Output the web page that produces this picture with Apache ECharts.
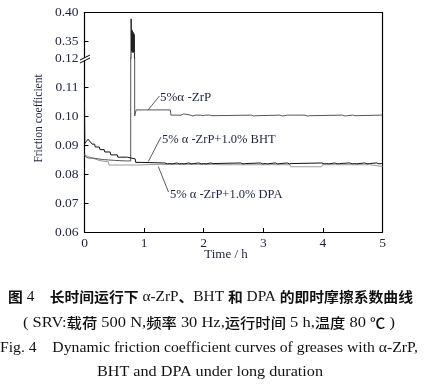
<!DOCTYPE html>
<html><head><meta charset="utf-8">
<script src="https://cdn.jsdelivr.net/npm/echarts@6/dist/echarts.min.js"></script>
<style>html,body{margin:0;padding:0;background:#fff}#c{width:445px;height:384px}</style>
</head><body><div id="c"></div>
<script>
// ---- data ----
const timeTicks = [0, 1, 2, 3, 4, 5];
const lowerTicks = [0.06, 0.07, 0.08, 0.09, 0.10, 0.11, 0.12];
const upperTicks = [0.35, 0.40];
const seriesNames = ['5%α -ZrP', '5% α -ZrP+1.0% BHT', '5% α -ZrP+1.0% DPA'];
const zrp = [
  [0,0.0866],[0.02,0.0866],[0.03,0.0858],[0.06,0.0858],[0.07,0.0855],[0.14,0.0855],[0.15,0.0850],[0.30,0.0850],
  [0.31,0.0847],[0.50,0.0847],[0.52,0.0845],[0.70,0.0845],[0.72,0.0848],[0.73,0.0845],[0.775,0.0845],
  [0.78,0.330],[0.782,0.389],[0.786,0.372],[0.79,0.334],[0.795,0.370],[0.80,0.331],[0.805,0.368],[0.81,0.332],
  [0.815,0.366],[0.82,0.331],[0.825,0.364],[0.83,0.332],[0.835,0.362],[0.838,0.331],
  [0.842,0.1000],[0.855,0.1000],[0.858,0.1006],[0.862,0.1000],[0.866,0.1021],[0.98,0.1021],[0.985,0.1026],[0.99,0.1021],
  [1.30,0.1021],[1.305,0.1025],[1.31,0.1021],[1.44,0.1021],[1.45,0.1003],
  [1.62,0.1003],[1.63,0.1008],[1.64,0.1000],[1.66,0.1007],[1.68,0.1001],[1.70,0.1006],[1.72,0.1003],
  [1.78,0.1003],[1.80,0.1007],[1.82,0.1000],[1.84,0.1006],[1.86,0.1003],
  [1.95,0.1003],[1.97,0.1007],[1.99,0.1001],[2.01,0.1006],[2.03,0.1003],
  [2.10,0.1003],[2.12,0.1007],[2.14,0.1001],[2.16,0.1003],
  [2.80,0.1003],[2.82,0.1008],[2.84,0.1000],[2.86,0.1006],[2.88,0.1001],[2.90,0.1003],
  [3.28,0.1003],[3.30,0.1007],[3.32,0.1000],[3.34,0.1006],[3.36,0.1001],[3.38,0.1007],[3.40,0.1003],
  [3.46,0.1003],[3.48,0.1007],[3.50,0.1003],
  [3.70,0.1003],[3.72,0.1007],[3.74,0.1000],[3.76,0.1006],[3.78,0.1001],[3.80,0.1003],
  [4.33,0.1003],[4.35,0.1007],[4.37,0.1000],[4.39,0.1006],[4.41,0.1001],[4.43,0.1003],
  [4.50,0.1003],[4.52,0.1006],[4.54,0.1001],[4.56,0.1003],
  [4.96,0.1003],[4.98,0.1006],[5.00,0.1003]
];
const bht = [
  [0,0.1045],[0.005,0.0905],[0.03,0.0912],[0.06,0.0920],[0.08,0.0918],[0.10,0.0910],[0.13,0.0903],[0.17,0.0903],
  [0.18,0.0893],[0.25,0.0893],[0.26,0.0884],[0.33,0.0884],[0.34,0.0876],[0.43,0.0876],[0.44,0.0866],[0.55,0.0866],
  [0.56,0.0858],[0.72,0.0858],[0.73,0.0852],[0.85,0.0852],[0.86,0.0840],[0.95,0.0840],[0.96,0.0838],
  [1.35,0.0838],[1.37,0.0842],[1.39,0.0835],[1.41,0.0841],[1.43,0.0836],[1.45,0.0840],[1.47,0.0835],[1.49,0.0838],
  [1.55,0.0838],[1.57,0.0841],[1.59,0.0835],[1.61,0.0840],[1.63,0.0836],[1.65,0.0841],[1.67,0.0835],[1.69,0.0838],
  [1.75,0.0838],[1.77,0.0842],[1.79,0.0835],[1.81,0.0840],[1.83,0.0836],[1.85,0.0838],
  [1.92,0.0838],[1.94,0.0841],[1.96,0.0835],[1.98,0.0840],[2.00,0.0836],[2.02,0.0841],[2.04,0.0835],[2.06,0.0838],
  [2.12,0.0838],[2.14,0.0841],[2.16,0.0836],[2.18,0.0838],
  [2.62,0.0838],[2.64,0.0841],[2.66,0.0835],[2.68,0.0840],[2.70,0.0836],[2.72,0.0838],
  [2.95,0.0838],[2.97,0.0841],[2.99,0.0835],[3.01,0.0840],[3.03,0.0836],[3.05,0.0841],[3.07,0.0835],[3.09,0.0838],
  [3.20,0.0838],[3.22,0.0841],[3.24,0.0835],[3.26,0.0838],
  [3.40,0.0838],[3.42,0.0841],[3.44,0.0835],[3.46,0.0840],[3.48,0.0836],[3.50,0.0838],
  [3.98,0.0838],[4.00,0.0841],[4.02,0.0835],[4.04,0.0840],[4.06,0.0836],[4.08,0.0841],[4.10,0.0835],[4.12,0.0838],
  [4.20,0.0838],[4.22,0.0841],[4.24,0.0835],[4.26,0.0840],[4.28,0.0836],[4.30,0.0838],
  [4.45,0.0838],[4.47,0.0841],[4.49,0.0835],[4.51,0.0840],[4.53,0.0836],[4.55,0.0841],[4.57,0.0835],[4.59,0.0838],
  [4.70,0.0838],[4.72,0.0841],[4.74,0.0835],[4.76,0.0840],[4.78,0.0836],[4.80,0.0838],
  [4.90,0.0838],[4.92,0.0841],[4.94,0.0835],[4.96,0.0840],[4.98,0.0836],[5.00,0.0838]
];
const dpa = [
  [0,0.0868],[0.04,0.0862],[0.05,0.0856],[0.09,0.0858],[0.10,0.0852],[0.17,0.0852],[0.18,0.0846],[0.26,0.0846],
  [0.27,0.0842],[0.40,0.0842],[0.41,0.0831],[0.88,0.0831],[0.90,0.0833],[1.20,0.0833],[1.22,0.0830],[1.26,0.0833],
  [2.20,0.0833],[2.22,0.0836],[2.24,0.0832],[2.50,0.0832],[2.52,0.0835],[2.54,0.0832],
  [3.45,0.0832],[3.46,0.0825],[3.60,0.0825],[3.62,0.0822],[3.64,0.0825],[3.98,0.0825],[3.99,0.0832],
  [4.78,0.0832],[4.79,0.0826],[5.00,0.0826]
];

// ---- chart ----
const TXT = '#1d2340';
const SERIF = '"Liberation Serif", "Times New Roman", serif';
const chart = echarts.init(document.getElementById('c'), null, {renderer: 'canvas'});
const upperMin = 0.40 - 45.5 * 0.05 / 29;
const axisLineStyle = {color: '#000', width: 1.2};
const fmt = v => Number(v).toFixed(2);

const mctx = document.createElement('canvas').getContext('2d');
function measure(text, font) { mctx.font = font; return mctx.measureText(text).width; }
const F_B1 = 'bold 14px "Noto Sans CJK SC"', F_S1 = '14.5px "Liberation Serif"';
const F_B2 = '500 13.5px "Noto Sans CJK SC"', F_S2 = '14.5px "Liberation Serif"';
function richWidth(parts, fonts) { return parts.reduce((w, p) => w + measure(p[1], fonts[p[0]]), 0); }
const cap1Parts = [['b','图'],['s',' 4    '],['b','长时间运行下'],['s',' α-ZrP'],['b','、'],['s','BHT '],['b','和'],['s',' DPA '],['b','的即时摩擦系数曲线']];
const cap2Parts = [['s','( SRV:'],['b','载荷'],['s',' 500 N,'],['b','频率'],['s',' 30 Hz,'],['b','运行时间'],['s',' 5 h,'],['b','温度'],['s',' 80 '],['b','℃'],['s',' )']];
const toRich = parts => parts.map(p => '{' + p[0] + '|' + p[1] + '}').join('');
const s1 = 405 / richWidth(cap1Parts, {b: F_B1, s: F_S1});
const s2 = 372 / richWidth(cap2Parts, {b: F_B2, s: F_S2});
const cap3 = 'Fig. 4    Dynamic friction coefficient curves of greases with α-ZrP,';
const cap4 = 'BHT and DPA under long duration';
const s3 = 418 / measure(cap3, '14px "Liberation Serif"');
const s4 = 226 / measure(cap4, '14px "Liberation Serif"');

chart.setOption({
  animation: false,
  backgroundColor: '#fff',
  grid: [
    {left: 84.5, right: 62.5, top: 12.5, height: 45.5},
    {left: 84.5, right: 62.5, top: 58, height: 174}
  ],
  xAxis: [
    {gridIndex: 0, type: 'value', min: 0, max: 5, interval: 1, position: 'top',
     axisLine: {show: true, onZero: false, lineStyle: axisLineStyle},
     axisTick: {show: false}, axisLabel: {show: false}, splitLine: {show: false}},
    {gridIndex: 1, type: 'value', min: timeTicks[0], max: timeTicks[timeTicks.length - 1], interval: 1, position: 'bottom',
     axisLine: {show: true, onZero: false, lineStyle: axisLineStyle},
     axisTick: {show: true, inside: true, length: 4, lineStyle: {color: '#000'}},
     axisLabel: {show: true, margin: 4, fontFamily: SERIF, fontSize: 13.5, color: TXT,
       customValues: timeTicks, formatter: v => String(v)},
     splitLine: {show: false}}
  ],
  yAxis: [
    {gridIndex: 0, type: 'value', min: upperMin, max: 0.40, position: 'left',
     axisLine: {show: true, onZero: false, lineStyle: axisLineStyle},
     axisTick: {show: true, inside: true, length: 4, customValues: upperTicks, lineStyle: {color: '#000'}},
     axisLabel: {show: true, margin: 6, fontFamily: SERIF, fontSize: 13.5, color: TXT,
       customValues: upperTicks, formatter: fmt},
     splitLine: {show: false}},
    {gridIndex: 0, type: 'value', min: upperMin, max: 0.40, position: 'right',
     axisLine: {show: true, onZero: false, lineStyle: axisLineStyle},
     axisTick: {show: false}, axisLabel: {show: false}, splitLine: {show: false}},
    {gridIndex: 1, type: 'value', min: lowerTicks[0], max: lowerTicks[lowerTicks.length - 1], interval: 0.01, position: 'left',
     axisLine: {show: true, onZero: false, lineStyle: axisLineStyle},
     axisTick: {show: true, inside: true, length: 4, lineStyle: {color: '#000'}},
     axisLabel: {show: true, margin: 6, fontFamily: SERIF, fontSize: 13.5, color: TXT,
       customValues: lowerTicks, formatter: fmt},
     splitLine: {show: false}},
    {gridIndex: 1, type: 'value', min: lowerTicks[0], max: lowerTicks[lowerTicks.length - 1], position: 'right',
     axisLine: {show: true, onZero: false, lineStyle: axisLineStyle},
     axisTick: {show: false}, axisLabel: {show: false}, splitLine: {show: false}}
  ],
  series: [
    {name: seriesNames[2], type: 'line', xAxisIndex: 1, yAxisIndex: 2, data: dpa, showSymbol: false, symbol: 'none',
     lineStyle: {color: '#9a9a9a', width: 1}, clip: true},
    {name: seriesNames[0], type: 'line', xAxisIndex: 1, yAxisIndex: 2, data: zrp, showSymbol: false, symbol: 'none',
     lineStyle: {color: '#555', width: 1}, clip: true},
    {name: seriesNames[0] + ' (upper)', type: 'line', xAxisIndex: 0, yAxisIndex: 0, data: zrp, showSymbol: false, symbol: 'none',
     lineStyle: {color: '#222', width: 1}, clip: true},
    {name: seriesNames[1], type: 'line', xAxisIndex: 1, yAxisIndex: 2, data: bht, showSymbol: false, symbol: 'none',
     lineStyle: {color: '#111', width: 1}, clip: true}
  ],
  graphic: [
    // axis break mark
    {type: 'polygon', shape: {points: [[80, 60], [90, 55], [90, 58], [80, 63]]}, style: {fill: '#fff'}, z: 100},
    {type: 'line', shape: {x1: 80, y1: 60, x2: 90, y2: 55}, style: {stroke: '#000', lineWidth: 1}, z: 101},
    {type: 'line', shape: {x1: 80, y1: 63, x2: 90, y2: 58}, style: {stroke: '#000', lineWidth: 1}, z: 101},
    // series annotations
    {type: 'line', shape: {x1: 159.5, y1: 96, x2: 148, y2: 110}, style: {stroke: '#333', lineWidth: 0.8}, z: 50},
    {type: 'text', x: 160, y: 98, style: {text: seriesNames[0], font: '13px "Liberation Serif"', fill: TXT, verticalAlign: 'middle'}, z: 50},
    {type: 'line', shape: {x1: 161, y1: 137, x2: 148.3, y2: 161.5}, style: {stroke: '#333', lineWidth: 0.8}, z: 50},
    {type: 'text', x: 162, y: 140, style: {text: seriesNames[1], font: '12.5px "Liberation Serif"', fill: TXT, verticalAlign: 'middle'}, z: 50},
    {type: 'line', shape: {x1: 168.5, y1: 192, x2: 158.3, y2: 166.5}, style: {stroke: '#333', lineWidth: 0.8}, z: 50},
    {type: 'text', x: 170, y: 195, style: {text: seriesNames[2], font: '12.5px "Liberation Serif"', fill: TXT, verticalAlign: 'middle'}, z: 50},
    // axis titles
    {type: 'text', x: 38.5, y: 118.5, rotation: Math.PI / 2,
     style: {text: 'Friction coefficient', font: '11.5px "Liberation Serif"', fill: TXT, align: 'center', verticalAlign: 'middle'}},
    {type: 'text', x: 226, y: 255,
     style: {text: 'Time / h', font: '13px "Liberation Serif"', fill: TXT, align: 'center', verticalAlign: 'middle'}},
    // captions
    {type: 'text', x: 210.5, y: 297, scaleX: s1,
     style: {text: toRich(cap1Parts), align: 'center', verticalAlign: 'middle', fill: '#111',
       rich: {b: {fontFamily: '"Noto Sans CJK SC"', fontWeight: 'bold', fontSize: 14, fill: '#111'},
              s: {fontFamily: '"Liberation Serif"', fontSize: 14.5, fill: '#111'}}}},
    {type: 'text', x: 209, y: 323, scaleX: s2,
     style: {text: toRich(cap2Parts), align: 'center', verticalAlign: 'middle', fill: '#111',
       rich: {b: {fontFamily: '"Noto Sans CJK SC"', fontWeight: 500, fontSize: 13.5, fill: '#111'},
              s: {fontFamily: '"Liberation Serif"', fontSize: 14.5, fill: '#111'}}}},
    {type: 'text', x: 209, y: 348, scaleX: s3,
     style: {text: cap3, font: '14px "Liberation Serif"', fill: '#111', align: 'center', verticalAlign: 'middle'}},
    {type: 'text', x: 210, y: 372, scaleX: s4,
     style: {text: cap4, font: '14px "Liberation Serif"', fill: '#111', align: 'center', verticalAlign: 'middle'}}
  ]
});
</script></body></html>
